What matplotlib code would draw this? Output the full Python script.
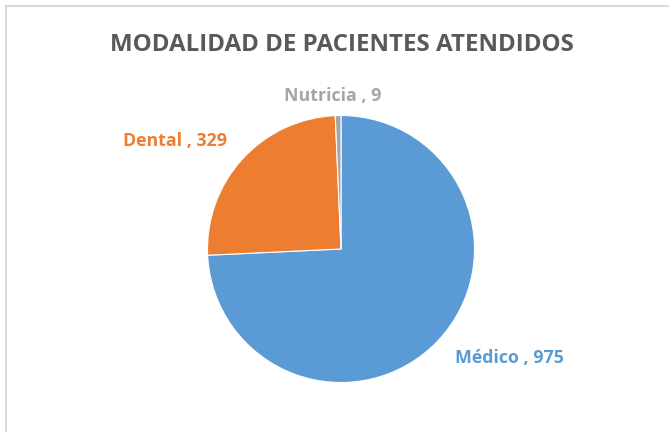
import matplotlib
matplotlib.use('Agg')
import matplotlib.pyplot as plt
from matplotlib.lines import Line2D

# data
categorias = ['Médico', 'Dental', 'Nutricia']
valores = [975, 329, 9]
colores = ['#5B9BD5', '#ED7D31', '#A5A5A5']
titulo = 'MODALIDAD DE PACIENTES ATENDIDOS'

W, H = 669, 432
fig = plt.figure(figsize=(W / 100, H / 100), dpi=100)
fig.patch.set_facecolor('white')

# chart border (top and left visible)
fig.add_artist(Line2D([5.5 / W, 5.5 / W], [0, 1 - 5.5 / H], transform=fig.transFigure,
                      color='#D9D9D9', lw=1.5))
fig.add_artist(Line2D([5.5 / W, 1], [1 - 5.5 / H, 1 - 5.5 / H], transform=fig.transFigure,
                      color='#D9D9D9', lw=1.5))

cx, cy, r = 341, 249, 133.5
ax = fig.add_axes([(cx - r) / W, (H - cy - r) / H, 2 * r / W, 2 * r / H])
ax.pie(valores, colors=colores, startangle=90, counterclock=False,
       wedgeprops=dict(edgecolor='white', linewidth=0.8))
ax.set_aspect('equal')
ax.set_xlim(-1, 1)
ax.set_ylim(-1, 1)

# labels (positions relative to the pie radius)
pos = [(1.26, -0.82), (-1.24, 0.81), (-0.06, 1.146)]
for cat, v, c, (x, y) in zip(categorias, valores, colores, pos):
    ax.text(x, y, f'{cat} , {v}', color=c, fontsize=12.8, fontweight='bold',
            family='Open Sans', ha='center', va='center', clip_on=False)

fig.text(342 / W, 1 - 45 / H, titulo, color='#595959', fontsize=17.4,
         fontweight='bold', family='Open Sans', ha='center', va='center')

fig.savefig('out.png', dpi=100)
